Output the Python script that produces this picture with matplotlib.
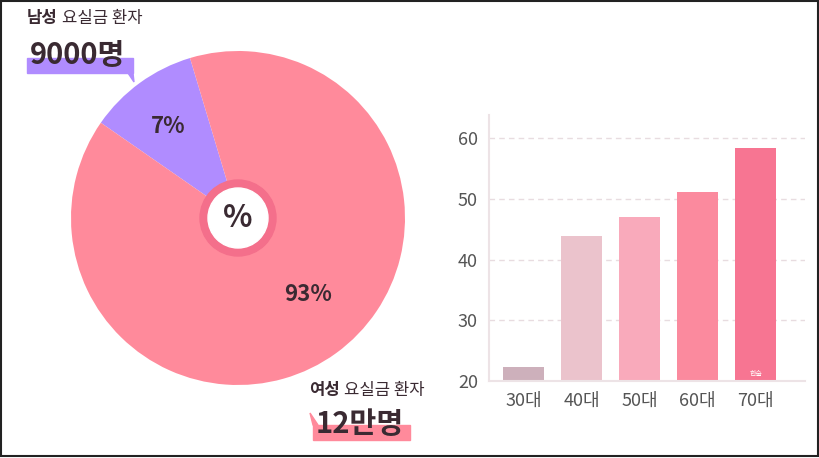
import matplotlib.pyplot as plt
from matplotlib.patches import Rectangle, Circle, Polygon

plt.rcParams["font.family"] = "Noto Sans CJK KR"

# pie data (share as drawn in the picture, labels as printed)
pie_groups = ["남성", "여성"]
pie_shares = [10.7, 89.3]
pie_labels = ["7%", "93%"]
pie_colors = ["#B08CFF", "#FF8A9B"]

# bar data by age group
ages = ["30대", "40대", "50대", "60대", "70대"]
rates = [22.3, 43.9, 47.0, 51.1, 58.4]
bar_colors = ["#CDB0BB", "#EBC3CC", "#F9AABB", "#FB8A9E", "#F77592"]

W, H = 820, 458
fig = plt.figure(figsize=(W / 100, H / 100), dpi=100)

def px(x, y, w, h):
    return [x / W, 1 - (y + h) / H, w / W, h / H]

# pie
cx, cy, r = 238, 218, 167
ax = fig.add_axes(px(cx - r, cy - r, 2 * r, 2 * r))
ax.pie(pie_shares, colors=pie_colors, startangle=106.7, counterclock=True,
       wedgeprops=dict(linewidth=0), radius=1)
ax.set_xlim(-1, 1)
ax.set_ylim(-1, 1)
ax.set_aspect("equal")
ax.add_patch(Circle((0, 0), 38 / r, color="#F46F8B", zorder=3))
ax.add_patch(Circle((0, 0), 30 / r, color="white", zorder=4))
ax.text(0, 0, "%", ha="center", va="center", fontsize=22, fontweight="bold",
        color="#3A2A32", zorder=5)
ax.text(-0.42, 0.55, pie_labels[0], ha="center", va="center", fontsize=16,
        fontweight="bold", color="#3A2A32")
ax.text(0.42, -0.46, pie_labels[1], ha="center", va="center", fontsize=16,
        fontweight="bold", color="#3A2A32")

# bars
bx = fig.add_axes(px(489, 115, 316, 266))
bx.bar(range(len(ages)), rates, color=bar_colors, width=0.7, zorder=2)
bx.set_ylim(20, 63.8)
bx.set_xlim(-0.6, 4.85)
bx.set_yticks([20, 30, 40, 50, 60])
bx.set_xticks(range(len(ages)))
bx.set_xticklabels(ages)
bx.tick_params(length=0, labelsize=13, colors="#555555", pad=8)
for t in [30, 40, 50, 60]:
    bx.axhline(t, color="#E8DCE0", linestyle=(0, (4, 3)), linewidth=1, zorder=1)
for s in ["top", "right"]:
    bx.spines[s].set_visible(False)
for s in ["left", "bottom"]:
    bx.spines[s].set_color("#EDE3E6")
    bx.spines[s].set_linewidth(1.5)
bx.text(4, 20.8, "한술", ha="center", fontsize=5, color="white")

# callout text, figure pixel coordinates
ov = fig.add_axes([0, 0, 1, 1])
ov.set_xlim(0, W)
ov.set_ylim(H, 0)
ov.axis("off")
ov.patch.set_alpha(0)
ov.add_patch(Rectangle((27, 58), 106, 15, color="#B08CFF"))
ov.add_patch(Polygon([[128, 73], [133, 73], [134, 82]], color="#B08CFF"))
ov.text(27, 18, "남성", fontsize=12, fontweight="bold", color="#3A2A32", va="center")
ov.text(62, 18, "요실금 환자", fontsize=12, color="#3A2A32", va="center")
ov.text(30, 55, "9000명", fontsize=21, fontweight="bold", color="#3A2A32", va="center")

ov.add_patch(Rectangle((313, 425), 97, 15, color="#FF8A9B"))
ov.add_patch(Polygon([[313, 425], [318, 425], [310, 413]], color="#FF8A9B"))
ov.text(309, 390, "여성", fontsize=12, fontweight="bold", color="#3A2A32", va="center")
ov.text(344, 390, "요실금 환자", fontsize=12, color="#3A2A32", va="center")
ov.text(316, 424, "12만명", fontsize=21, fontweight="bold", color="#3A2A32", va="center")
ov.add_patch(Rectangle((1, 1), W - 3, H - 3, fill=False, edgecolor="#222222", linewidth=1.5))

fig.savefig("out.png", dpi=100)
